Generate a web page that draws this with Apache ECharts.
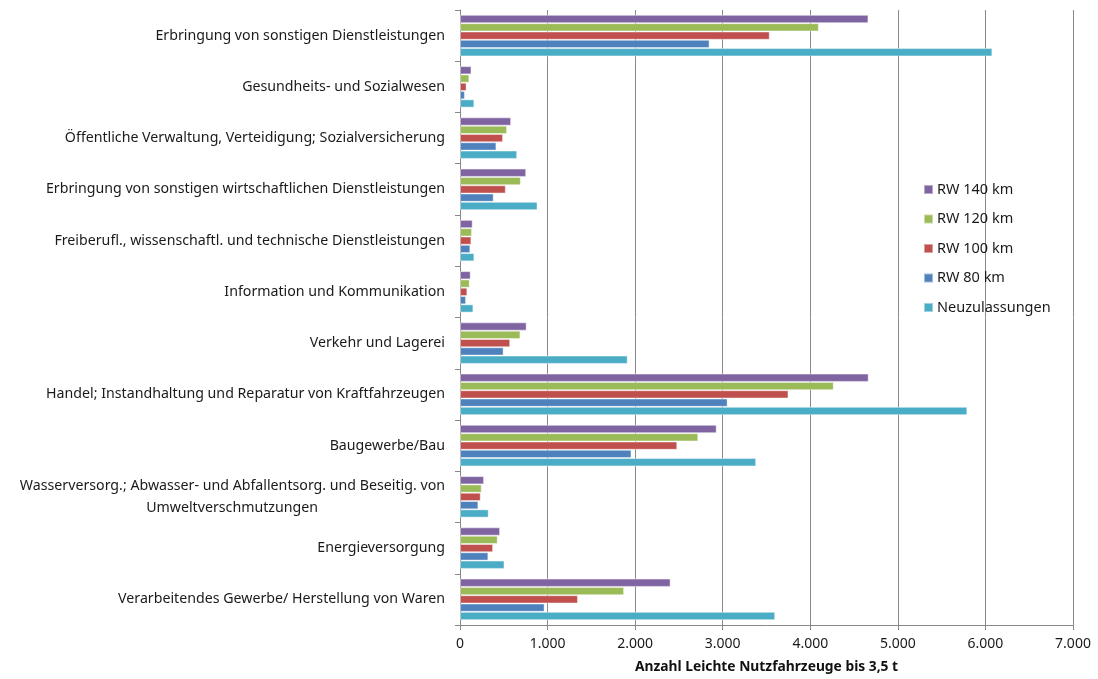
<!DOCTYPE html>
<html>
<head>
<meta charset="utf-8">
<script src="https://cdn.jsdelivr.net/npm/echarts@6/dist/echarts.min.js"></script>
<style>
  html, body { margin: 0; padding: 0; background: #fff; }
  #chart { width: 1098px; height: 679px; }
</style>
</head>
<body>
<div id="chart"></div>
<script>
// Wirtschaftszweige, von unten nach oben
const categories = [
  'Verarbeitendes Gewerbe/ Herstellung von Waren',
  'Energieversorgung',
  'Wasserversorg.; Abwasser- und Abfallentsorg. und Beseitig. von\nUmweltverschmutzungen',
  'Baugewerbe/Bau',
  'Handel; Instandhaltung und Reparatur von Kraftfahrzeugen',
  'Verkehr und Lagerei',
  'Information und Kommunikation',
  'Freiberufl., wissenschaftl. und technische Dienstleistungen',
  'Erbringung von sonstigen wirtschaftlichen Dienstleistungen',
  'Öffentliche Verwaltung, Verteidigung; Sozialversicherung',
  'Gesundheits- und Sozialwesen',
  'Erbringung von sonstigen Dienstleistungen'
];

const neuzulassungen = [3599, 508, 328, 3382, 5793, 1915, 153, 164, 885, 653, 164, 6079];
const rw80  = [966, 324, 210, 1958, 3056, 498, 69, 118, 385, 416, 56, 2850];
const rw100 = [1347, 378, 237, 2481, 3751, 573, 84, 130, 523, 492, 75, 3537];
const rw120 = [1874, 431, 248, 2721, 4268, 690, 111, 137, 695, 538, 107, 4098];
const rw140 = [2405, 458, 275, 2931, 4667, 761, 122, 145, 756, 584, 131, 4664];

const xTicks = { min: 0, max: 7000, interval: 1000 };
const xAxisTitle = 'Anzahl Leichte Nutzfahrzeuge bis 3,5 t';

const FONT = 'Noto Sans';
const LABEL_SIZE = 14.2;

function deNumber(v) {
  return String(v).replace(/\B(?=(\d{3})+(?!\d))/g, '.');
}

// text width helper, used to centre the second line of wrapped labels under the first
const measureCtx = document.createElement('canvas').getContext('2d');
function textWidth(s) {
  measureCtx.font = LABEL_SIZE + 'px "' + FONT + '"';
  return measureCtx.measureText(s).width;
}

function barSeries(name, data, color) {
  return {
    name: name,
    type: 'bar',
    data: data,
    barGap: '0%',
    barCategoryGap: '19%',
    itemStyle: { color: color, borderColor: 'rgba(255,255,255,0.45)', borderWidth: 1 },
    emphasis: { disabled: true }
  };
}

const chart = echarts.init(document.getElementById('chart'), null, { renderer: 'canvas' });

document.fonts.load(LABEL_SIZE + 'px "' + FONT + '"').then(draw, draw);

function draw() {
  // right padding that centres the second line of the wrapped label under the first
  const wrapped = categories.find(function (c) { return c.indexOf('\n') >= 0; }).split('\n');
  const pad = Math.max(0, Math.round((textWidth(wrapped[0]) - textWidth(wrapped[1])) / 2));

  chart.setOption({
    animation: false,
    textStyle: { fontFamily: FONT },
    grid: { left: 460, right: 25, top: 10, bottom: 53, containLabel: false },
    legend: {
      orient: 'vertical',
      left: 918,
      top: 177,
      itemWidth: 9,
      itemHeight: 9,
      itemGap: 14.5,
      icon: 'rect',
      textStyle: { fontFamily: FONT, fontSize: 14.5, color: '#1a1a1a', padding: [0, 0, 0, -1] },
      data: ['RW 140 km', 'RW 120 km', 'RW 100 km', 'RW 80 km', 'Neuzulassungen']
    },
    xAxis: {
      type: 'value',
      min: xTicks.min,
      max: xTicks.max,
      interval: xTicks.interval,
      name: xAxisTitle,
      nameLocation: 'middle',
      nameGap: 35,
      nameTextStyle: { fontFamily: FONT, fontSize: 13.8, fontWeight: 'bold', color: '#111' },
      axisLine: { show: true, lineStyle: { color: '#888', width: 1 } },
      axisTick: { show: true, length: 5, lineStyle: { color: '#888' } },
      axisLabel: { fontFamily: FONT, fontSize: 14, color: '#1a1a1a', margin: 12, formatter: deNumber },
      splitLine: { show: true, lineStyle: { color: '#8a8a8a', width: 1 } }
    },
    yAxis: {
      type: 'category',
      data: categories,
      axisLine: { show: true, lineStyle: { color: '#888', width: 1 } },
      axisTick: { show: true, length: 5, lineStyle: { color: '#888' } },
      axisLabel: {
        fontFamily: FONT, fontSize: LABEL_SIZE, color: '#1a1a1a', margin: 15, lineHeight: 22,
        formatter: function (v) {
          const parts = v.split('\n');
          return parts.length > 1 ? parts[0] + '\n{b|' + parts[1] + '}' : v;
        },
        rich: {
          b: { fontFamily: FONT, fontSize: LABEL_SIZE, color: '#1a1a1a', lineHeight: 22, padding: [0, pad, 0, 0] }
        }
      },
      splitLine: { show: false }
    },
    series: [
      barSeries('RW 140 km', rw140, '#8064A2'),
      barSeries('RW 120 km', rw120, '#9BBB59'),
      barSeries('RW 100 km', rw100, '#C0504D'),
      barSeries('RW 80 km', rw80, '#4F81BD'),
      barSeries('Neuzulassungen', neuzulassungen, '#4BACC6')
    ]
  });
}
</script>
</body>
</html>
